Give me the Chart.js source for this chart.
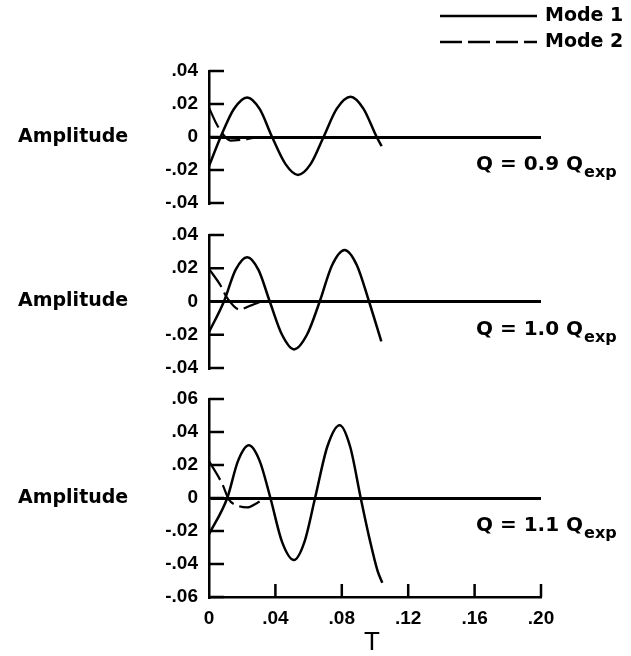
<!DOCTYPE html>
<html>
<head>
<meta charset="utf-8">
<script src="https://cdn.jsdelivr.net/npm/chart.js@4.4.1/dist/chart.umd.min.js"></script>
<style>
  html, body { margin: 0; padding: 0; background: #fff; }
  #wrap { position: relative; width: 631px; height: 656px; }
  #wrap canvas { position: absolute; left: 0; top: 0; }
</style>
</head>
<body>
<div id="wrap">
  <canvas id="panel1" width="631" height="656"></canvas>
  <canvas id="panel2" width="631" height="656"></canvas>
  <canvas id="panel3" width="631" height="656"></canvas>
</div>
<script>
// time axis (shared)
const xTicks = [0, 0.04, 0.08, 0.12, 0.16, 0.20];
const xTickLabels = ['0', '.04', '.08', '.12', '.16', '.20'];

// amplitude ticks
const yTicksSmall = [-0.04, -0.02, 0, 0.02, 0.04];
const yTickLabelsSmall = ['-.04', '-.02', '0', '.02', '.04'];
const yTicksLarge = [-0.06, -0.04, -0.02, 0, 0.02, 0.04, 0.06];
const yTickLabelsLarge = ['-.06', '-.04', '-.02', '0', '.02', '.04', '.06'];

const seriesNames = ['Mode 1', 'Mode 2'];
const panelLabels = ['0.9', '1.0', '1.1'];

// Q = 0.9 Qexp
const mode1T_a = [0, 0.007, 0.015, 0.023, 0.0305, 0.038, 0.046, 0.0536, 0.0613, 0.069, 0.077, 0.0853, 0.093, 0.101, 0.104];
const mode1A_a = [-0.0176, 0, 0.017, 0.024, 0.017, 0, -0.0163, -0.023, -0.0163, 0, 0.0172, 0.0244, 0.0172, 0, -0.0055];
const mode2T_a = [0, 0.004, 0.0085, 0.013, 0.02, 0.027, 0.034, 0.06, 0.104];
const mode2A_a = [0.0178, 0.009, 0.0015, -0.0022, -0.0016, -0.0006, 0, 0, 0];

// Q = 1.0 Qexp
const mode1T_b = [0, 0.009, 0.016, 0.023, 0.0298, 0.0366, 0.044, 0.0512, 0.059, 0.0667, 0.0742, 0.0817, 0.089, 0.0964, 0.1038];
const mode1A_b = [-0.0184, 0, 0.019, 0.0266, 0.019, 0, -0.020, -0.0288, -0.020, 0, 0.022, 0.031, 0.022, 0, -0.024];
const mode2T_b = [0, 0.007, 0.011, 0.0185, 0.025, 0.033, 0.06, 0.104];
const mode2A_b = [0.0196, 0.0096, 0.002, -0.0048, -0.0025, 0, 0, 0];

// Q = 1.1 Qexp
const mode1T_c = [0, 0.011, 0.0175, 0.024, 0.0305, 0.037, 0.044, 0.0512, 0.0575, 0.0639, 0.0713, 0.0787, 0.085, 0.0914, 0.097, 0.1015, 0.1044];
const mode1A_c = [-0.022, 0, 0.0225, 0.0319, 0.0225, 0, -0.0266, -0.0376, -0.0266, 0, 0.0312, 0.0441, 0.0312, 0, -0.026, -0.044, -0.0514];
const mode2T_c = [0, 0.008, 0.012, 0.017, 0.023, 0.029, 0.035, 0.06, 0.104];
const mode2A_c = [0.0224, 0.0085, -0.001, -0.0045, -0.0057, -0.003, 0, 0, 0];

const TEXT_FONT = '"DejaVu Sans", sans-serif';
const TICK_FONT = '"Liberation Sans", Arial, sans-serif';
const DASH = [22, 6];

function toPoints(ts, as) {
  return ts.map((t, i) => ({ x: t, y: as[i] }));
}

// inward tick stubs, side labels, legend
const panelDecor = {
  id: 'panelDecor',
  afterDraw(chart, args, o) {
    const ctx = chart.ctx;
    const area = chart.chartArea;
    const ys = chart.scales.y;
    ctx.save();
    ctx.strokeStyle = '#000';
    ctx.lineWidth = 2.5;
    ctx.beginPath();
    ys.ticks.forEach(t => {
      const py = ys.getPixelForValue(t.value);
      ctx.moveTo(area.left, py);
      ctx.lineTo(area.left + 15, py);
    });
    if (o.showX) {
      const xs = chart.scales.x;
      xs.ticks.forEach(t => {
        if (t.value === 0) return;
        const px = xs.getPixelForValue(t.value);
        ctx.moveTo(px, area.bottom);
        ctx.lineTo(px, area.bottom - 13);
      });
    }
    ctx.stroke();

    const y0 = ys.getPixelForValue(0);
    ctx.fillStyle = '#000';
    ctx.textBaseline = 'middle';
    ctx.textAlign = 'left';
    ctx.font = 'bold 19px ' + TEXT_FONT;
    ctx.fillText('Amplitude', 18, y0);

    const q = 'Q = ' + o.q + ' Q';
    ctx.font = 'bold 20px ' + TEXT_FONT;
    ctx.fillText(q, 476, y0 + 28);
    const w = ctx.measureText(q).width;
    ctx.font = 'bold 16px ' + TEXT_FONT;
    ctx.fillText('exp', 476 + w + 1, y0 + 36);

    if (o.showX) {
      ctx.font = '26px ' + TICK_FONT;
      ctx.textAlign = 'center';
      ctx.fillText('T', 372, 643);
    }

    if (o.legend) {
      ctx.lineWidth = 2.5;
      ctx.beginPath();
      ctx.moveTo(440, 16);
      ctx.lineTo(537, 16);
      ctx.stroke();
      ctx.setLineDash(DASH);
      ctx.beginPath();
      ctx.moveTo(440, 42);
      ctx.lineTo(537, 42);
      ctx.stroke();
      ctx.setLineDash([]);
      ctx.font = 'bold 19px ' + TEXT_FONT;
      ctx.textAlign = 'left';
      ctx.fillText(seriesNames[0], 545, 16);
      ctx.fillText(seriesNames[1], 545, 42);
    }
    ctx.restore();
  }
};

function buildPanel(id, cfg) {
  new Chart(document.getElementById(id), {
    type: 'line',
    data: {
      datasets: [{
        label: seriesNames[0],
        data: toPoints(cfg.m1t, cfg.m1a),
        borderColor: '#000',
        borderWidth: 2.5,
        pointRadius: 0,
        cubicInterpolationMode: 'monotone'
      }, {
        label: seriesNames[1],
        data: toPoints(cfg.m2t, cfg.m2a),
        borderColor: '#000',
        borderWidth: 2.2,
        borderDash: DASH,
        pointRadius: 0,
        cubicInterpolationMode: 'monotone'
      }]
    },
    options: {
      responsive: false,
      animation: false,
      devicePixelRatio: 1,
      layout: { padding: { left: 0, right: 90, top: cfg.top, bottom: cfg.bottom } },
      plugins: {
        legend: { display: false },
        tooltip: { enabled: false },
        panelDecor: { q: cfg.q, showX: cfg.showX, legend: cfg.legend }
      },
      scales: {
        x: {
          type: 'linear',
          min: 0,
          max: 0.2,
          display: cfg.showX,
          afterBuildTicks: s => { s.ticks = xTicks.map(v => ({ value: v })); },
          afterFit: s => { if (cfg.showX) s.height = 40; },
          grid: { drawOnChartArea: false, drawTicks: false },
          border: { display: true, color: '#000', width: 2.5 },
          ticks: {
            padding: 10,
            autoSkip: false,
            maxRotation: 0,
            color: '#000',
            font: { family: TICK_FONT, size: 19, weight: 'bold' },
            callback: (v, i) => xTickLabels[i]
          }
        },
        y: {
          type: 'linear',
          min: cfg.yTicks[0],
          max: cfg.yTicks[cfg.yTicks.length - 1],
          afterBuildTicks: s => { s.ticks = cfg.yTicks.map(v => ({ value: v })); },
          afterFit: s => { s.width = 209; },
          grid: {
            drawTicks: false,
            color: c => (c.tick && c.tick.value === 0) ? '#000' : 'rgba(0,0,0,0)',
            lineWidth: 3
          },
          border: { display: true, color: '#000', width: 2.5 },
          ticks: {
            padding: 11,
            autoSkip: false,
            color: '#000',
            font: { family: TICK_FONT, size: 19, weight: 'bold' },
            callback: (v, i) => cfg.yLabels[i]
          }
        }
      }
    },
    plugins: [panelDecor]
  });
}

buildPanel('panel1', {
  m1t: mode1T_a, m1a: mode1A_a, m2t: mode2T_a, m2a: mode2A_a,
  yTicks: yTicksSmall, yLabels: yTickLabelsSmall,
  q: panelLabels[0], top: 71, bottom: 453, showX: false, legend: true
});
buildPanel('panel2', {
  m1t: mode1T_b, m1a: mode1A_b, m2t: mode2T_b, m2a: mode2A_b,
  yTicks: yTicksSmall, yLabels: yTickLabelsSmall,
  q: panelLabels[1], top: 235, bottom: 288, showX: false, legend: false
});
buildPanel('panel3', {
  m1t: mode1T_c, m1a: mode1A_c, m2t: mode2T_c, m2a: mode2A_c,
  yTicks: yTicksLarge, yLabels: yTickLabelsLarge,
  q: panelLabels[2], top: 399, bottom: 19, showX: true, legend: false
});
</script>
</body>
</html>
